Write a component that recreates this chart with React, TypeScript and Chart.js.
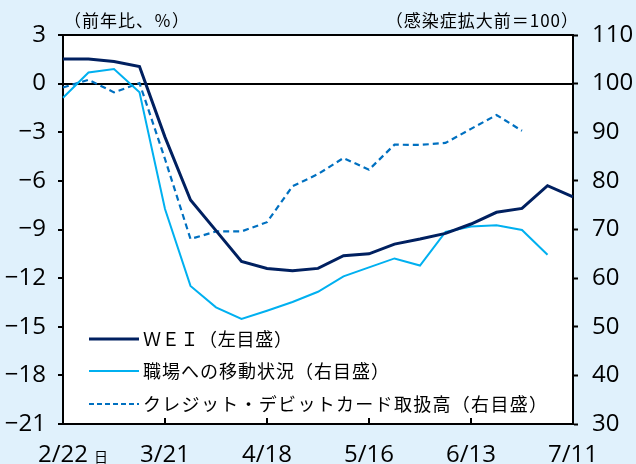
import React, { useEffect, useRef } from "react";
import { Chart, registerables } from "chart.js";
Chart.register(...registerables);

const dates = ["2/22","2/29","3/7","3/14","3/21","3/28","4/4","4/11","4/18","4/25","5/2","5/9","5/16","5/23","5/30","6/6","6/13","6/20","6/27","7/4","7/11"];
const shownDates = ["2/22","3/21","4/18","5/16","6/13","7/11"];
const weiValues = [1.52,1.52,1.36,1.05,-3.3,-7.18,-9.07,-10.97,-11.4,-11.54,-11.4,-10.62,-10.5,-9.9,-9.59,-9.24,-8.66,-7.94,-7.7,-6.3,-6.98];
const mobilityValues = [97.1,102.3,103.0,98.2,74.2,58.4,54.0,51.6,53.3,55.1,57.2,60.35,62.2,64.05,62.6,69.5,70.6,70.85,69.9,64.8,null];
const cardValues = [99.2,100.8,98.2,100.1,84.5,68.05,69.6,69.6,71.5,78.9,81.4,84.7,82.3,87.45,87.4,87.8,90.7,93.55,90.3,null,null];
const seriesNames = ["ＷＥＩ（左目盛）","職場への移動状況（右目盛）","クレジット・デビットカード取扱高（右目盛）"];
const leftUnit = "（前年比、％）";
const rightUnit = "（感染症拡大前＝100）";
const daySuffix = "日";

const NUM_FAMILY = "'Open Sans', 'Liberation Sans', sans-serif";
const JP_FONT = "'Noto Sans CJK JP', sans-serif";
const BG = "#e0f1fc";
const NAVY = "#002060";
const LIGHT = "#00b0f0";
const BLUE = "#0070c0";

const decor = {
  id: "decor",
  beforeDraw(chart: any) {
    const { ctx, chartArea: a } = chart;
    ctx.save();
    ctx.fillStyle = BG;
    ctx.fillRect(0, 0, chart.width, chart.height);
    ctx.fillStyle = "#ffffff";
    ctx.fillRect(a.left, a.top, a.right - a.left, a.bottom - a.top);
    ctx.restore();
  },
  afterDraw(chart: any) {
    const { ctx, chartArea: a } = chart;
    const x = chart.scales.x;
    ctx.save();
    ctx.strokeStyle = "#000";
    ctx.lineWidth = 2;
    ctx.beginPath();
    ctx.moveTo(a.left - 1, a.top);
    ctx.lineTo(a.right + 1, a.top);
    ctx.stroke();
    dates.forEach((d, i) => {
      if (!shownDates.includes(d) || i === 0 || i === dates.length - 1) return;
      const px = x.getPixelForValue(i);
      ctx.beginPath();
      ctx.moveTo(px, a.bottom);
      ctx.lineTo(px, a.bottom - 6);
      ctx.stroke();
    });
    ctx.fillStyle = "#000";
    ctx.font = "14px " + JP_FONT;
    ctx.textBaseline = "alphabetic";
    ctx.textAlign = "left";
    ctx.fillText(daySuffix, x.getPixelForValue(0) + 31, 462);
    ctx.font = "17px " + JP_FONT;
    (ctx as any).letterSpacing = "1px";
    ctx.textBaseline = "middle";
    ctx.textAlign = "left";
    ctx.fillText(leftUnit, a.left + 1, 21);
    ctx.textAlign = "right";
    ctx.fillText(rightUnit, a.right + 6, 21);
    const rows = [
      { color: NAVY, width: 3, dash: [] as number[], y: 339, sp: 0.7 },
      { color: LIGHT, width: 2, dash: [] as number[], y: 371, sp: 1 },
      { color: BLUE, width: 2, dash: [5, 3], y: 404, sp: 1.3 },
    ];
    ctx.font = "18px " + JP_FONT;
    ctx.textAlign = "left";
    ctx.textBaseline = "middle";
    rows.forEach((r, i) => {
      ctx.strokeStyle = r.color;
      ctx.lineWidth = r.width;
      ctx.setLineDash(r.dash);
      ctx.beginPath();
      ctx.moveTo(89, r.y);
      ctx.lineTo(139, r.y);
      ctx.stroke();
      ctx.setLineDash([]);
      ctx.fillStyle = "#000";
      (ctx as any).letterSpacing = r.sp + "px";
      ctx.fillText(seriesNames[i], 143, r.y);
    });
    ctx.restore();
  },
};

export default function App() {
  const ref = useRef<HTMLCanvasElement>(null);
  useEffect(() => {
    const canvas = ref.current!;
    const chart = new Chart(canvas, {
      type: "line",
      data: {
        labels: dates,
        datasets: [
          { label: seriesNames[0], data: weiValues, yAxisID: "y", borderColor: NAVY, borderWidth: 3, pointRadius: 0, tension: 0 },
          { label: seriesNames[1], data: mobilityValues as any, yAxisID: "y1", borderColor: LIGHT, borderWidth: 2, pointRadius: 0, tension: 0 },
          { label: seriesNames[2], data: cardValues as any, yAxisID: "y1", borderColor: BLUE, borderWidth: 2.2, borderDash: [6, 4], pointRadius: 0, tension: 0 },
        ],
      },
      options: {
        animation: false,
        responsive: false,
        layout: { padding: { top: 35, left: 0, right: 0, bottom: 0 } },
        plugins: { legend: { display: false }, tooltip: { enabled: false } },
        scales: {
          x: {
            type: "category",
            offset: false,
            afterFit: (s: any) => { s.height = 40; },
            grid: { display: true, drawOnChartArea: false, drawTicks: false },
            border: { display: true, color: "#000", width: 2 },
            ticks: {
              autoSkip: false,
              maxRotation: 0,
              padding: 17,
              color: "#000",
              font: { family: NUM_FAMILY, size: 24, style: "semi-condensed" as any },
              callback: (v: any, i: number) => (shownDates.includes(dates[i]) ? dates[i] : ""),
            },
          },
          y: {
            type: "linear",
            position: "left",
            min: -21,
            max: 3,
            afterFit: (s: any) => { s.width = 63; },
            grid: {
              display: true,
              drawOnChartArea: true,
              color: (c: any) => (c.tick && c.tick.value === 0 ? "#000" : "rgba(0,0,0,0)"),
              lineWidth: 2,
              tickColor: "#000",
              tickLength: 5,
              tickWidth: 2,
            },
            border: { display: true, color: "#000", width: 2 },
            ticks: {
              stepSize: 3,
              padding: 12,
              color: "#000",
              font: { family: NUM_FAMILY, size: 24, style: "condensed" as any },
              callback: (v: any) => (v < 0 ? "−" + Math.abs(v) : String(v)),
            },
          },
          y1: {
            type: "linear",
            position: "right",
            min: 30,
            max: 110,
            afterFit: (s: any) => { s.width = 63; },
            grid: { display: true, drawOnChartArea: false, tickColor: "#000", tickLength: 5, tickWidth: 2 },
            border: { display: true, color: "#000", width: 2 },
            ticks: {
              stepSize: 10,
              padding: 14,
              color: "#000",
              font: { family: NUM_FAMILY, size: 24, style: "condensed" as any },
            },
          },
        },
      },
      plugins: [decor],
    });
    return () => chart.destroy();
  }, []);
  return (
    <div style={{ position: "fixed", left: 0, top: 0, width: 636, height: 464, background: BG }}>
      <canvas ref={ref} width={636} height={464} style={{ width: 636, height: 464, display: "block" }} />
    </div>
  );
}
